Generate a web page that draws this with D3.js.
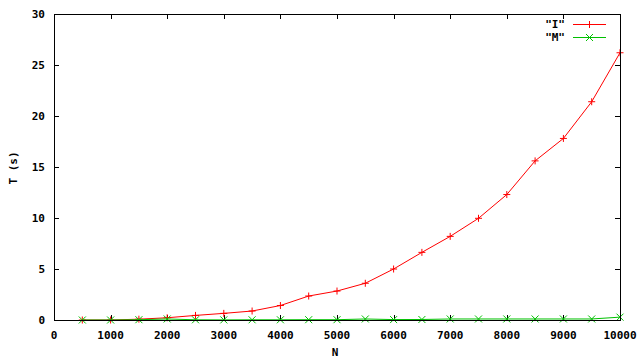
<!DOCTYPE html>
<html>
<head>
<meta charset="utf-8">
<script src="https://cdn.jsdelivr.net/npm/d3@7"></script>
<style>
  body { margin: 0; background: #fff; }
  text { font-family: "DejaVu Sans Mono", monospace; font-weight: bold; font-size: 11px; }
</style>
</head>
<body>
<div id="chart"></div>
<script>
// problem sizes
var sizes = [500, 1000, 1500, 2000, 2500, 3000, 3500, 4000, 4500, 5000,
             5500, 6000, 6500, 7000, 7500, 8000, 8500, 9000, 9500, 10000];
// "I" timings (s)
var timesI = [0, 0, 0.08, 0.22, 0.45, 0.65, 0.88, 1.42, 2.35, 2.84,
              3.6, 5.0, 6.63, 8.2, 9.97, 12.3, 15.6, 17.8, 21.4, 26.2];
// "M" timings (s)
var timesM = [0, 0, 0.03, 0.1, 0.02, 0.01, 0.02, 0.02, 0.03, 0.03,
              0.1, 0.04, 0.05, 0.1, 0.1, 0.1, 0.1, 0.1, 0.1, 0.28];
var xTicks = [0, 1000, 2000, 3000, 4000, 5000, 6000, 7000, 8000, 9000, 10000];
var yTicks = [0, 5, 10, 15, 20, 25, 30];

var margin = { top: 14, right: 20, bottom: 40, left: 54 },
    width = 640 - margin.left - margin.right,
    height = 360 - margin.top - margin.bottom;

var svg = d3.select("#chart")
    .append("svg")
    .attr("width", 640)
    .attr("height", 360)
    .append("g")
    .attr("transform", "translate(" + margin.left + "," + margin.top + ")");

var x = d3.scaleLinear().domain([0, 10000]).range([0, width]);
var y = d3.scaleLinear().domain([0, 30]).range([height, 0]);

// inner ticks, mirrored on all four sides
var tickLen = 5;
svg.selectAll(".xt")
    .data(xTicks.slice(1, -1))
    .enter().append("path")
    .attr("d", function (d) {
        var px = Math.round(x(d)) + 0.5;
        return "M" + px + "," + height + "v" + (-tickLen) + "M" + px + ",0v" + tickLen;
    })
    .attr("stroke", "#000").attr("shape-rendering", "crispEdges");
svg.selectAll(".yt")
    .data(yTicks.slice(1, -1))
    .enter().append("path")
    .attr("d", function (d) {
        var py = Math.round(y(d)) + 0.5;
        return "M0," + py + "h" + tickLen + "M" + width + "," + py + "h" + (-tickLen);
    })
    .attr("stroke", "#000").attr("shape-rendering", "crispEdges");

svg.selectAll(".xl")
    .data(xTicks)
    .enter().append("text")
    .attr("x", function (d) { return x(d); })
    .attr("y", height + 19)
    .attr("text-anchor", "middle")
    .text(function (d) { return d; });
svg.selectAll(".yl")
    .data(yTicks)
    .enter().append("text")
    .attr("x", -9)
    .attr("y", function (d) { return y(d) + 4; })
    .attr("text-anchor", "end")
    .text(function (d) { return d; });

svg.append("text")
    .attr("x", width / 2 - 2)
    .attr("y", height + 36)
    .attr("text-anchor", "middle")
    .text("N");
svg.append("text")
    .attr("transform", "translate(" + (-37) + "," + (height / 2 + 1) + ") rotate(-90)")
    .attr("text-anchor", "middle")
    .text("T (s)");

var line = d3.line()
    .x(function (d) { return x(d[0]); })
    .y(function (d) { return y(d[1]); });

function plus(px, py) { return "M" + (px - 3.5) + "," + py + "h7M" + px + "," + (py - 3.5) + "v7"; }
function cross(px, py) { return "M" + (px - 3.5) + "," + (py - 3.5) + "l7,7M" + (px - 3.5) + "," + (py + 3.5) + "l7,-7"; }

var series = [
    { name: "\"I\"", values: timesI, color: "#ff0000", mark: plus },
    { name: "\"M\"", values: timesM, color: "#00c000", mark: cross }
];

series.forEach(function (s, i) {
    var pts = sizes.map(function (n, k) { return [n, s.values[k]]; });
    svg.append("path")
        .datum(pts)
        .attr("d", line)
        .attr("fill", "none")
        .attr("stroke", s.color)
        .attr("stroke-width", 1);
    svg.selectAll(".m" + i)
        .data(pts)
        .enter().append("path")
        .attr("d", function (d) { return s.mark(x(d[0]), y(d[1])); })
        .attr("stroke", s.color)
        .attr("stroke-width", 1)
        .attr("fill", "none");

    // legend
    var ly = 10 + i * 13;
    svg.append("text")
        .attr("x", 511)
        .attr("y", ly + 4)
        .attr("text-anchor", "end")
        .text(s.name);
    svg.append("path")
        .attr("d", "M519," + (ly + 0.5) + "h33")
        .attr("stroke", s.color);
    svg.append("path")
        .attr("d", s.mark(535.5, ly + 0.5))
        .attr("stroke", s.color)
        .attr("fill", "none");
});

// frame
svg.append("rect")
    .attr("x", 0.5).attr("y", 0.5)
    .attr("width", width).attr("height", height)
    .attr("fill", "none")
    .attr("stroke", "#000")
    .attr("shape-rendering", "crispEdges");
</script>
</body>
</html>
